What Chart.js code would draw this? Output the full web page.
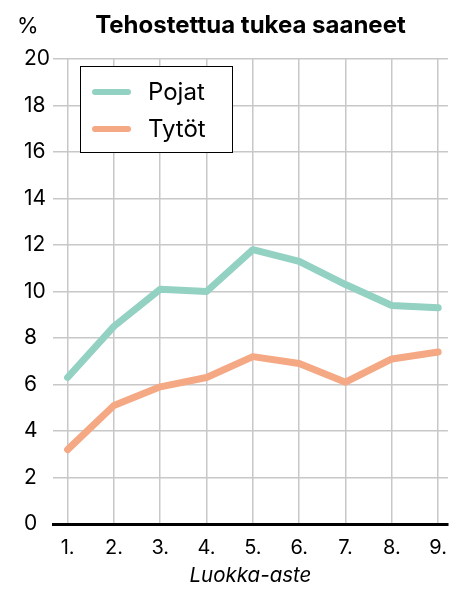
<!DOCTYPE html>
<html>
<head>
<meta charset="utf-8">
<script src="https://cdn.jsdelivr.net/npm/chart.js@4"></script>
<style>
  html, body { margin: 0; padding: 0; background: #fff; }
  #wrap { width: 459px; height: 589px; }
</style>
</head>
<body>
<div id="wrap"><canvas id="chart"></canvas></div>
<script>
// Données
const categories = ["1.", "2.", "3.", "4.", "5.", "6.", "7.", "8.", "9."];
const pojat = [6.3, 8.5, 10.1, 10.0, 11.8, 11.3, 10.3, 9.4, 9.3];
const tytot = [3.2, 5.1, 5.9, 6.3, 7.2, 6.9, 6.1, 7.1, 7.4];
const seriesNames = ["Pojat", "Tytöt"];
const titleText = "Tehostettua tukea saaneet";
const xTitle = "Luokka-aste";

const FONT = "Inter, 'Liberation Sans', sans-serif";
const colors = ["#93d1c3", "#f5a884"];

// Titre, "%" et légende dessinés sur le canvas
const decorPlugin = {
    id: "decor",
    afterDraw(chart) {
        const ctx = chart.ctx;
        const area = chart.chartArea;
        ctx.save();
        ctx.fillStyle = "#000";
        ctx.textBaseline = "alphabetic";

        // titre centré sur la zone du graphique
        ctx.font = "bold 24px " + FONT;
        ctx.textAlign = "center";
        ctx.fillText(titleText, (area.left + area.right) / 2, 33);

        ctx.font = "22px " + FONT;
        ctx.textAlign = "left";
        ctx.fillText("%", 17, 33);

        // légende
        ctx.fillStyle = "#fff";
        ctx.fillRect(80.5, 66.5, 152, 86);
        ctx.strokeStyle = "#000";
        ctx.lineWidth = 1;
        ctx.strokeRect(80.5, 66.5, 152, 86);

        const rows = [92, 129];
        seriesNames.forEach((name, i) => {
            ctx.strokeStyle = colors[i];
            ctx.lineWidth = 6;
            ctx.lineCap = "round";
            ctx.beginPath();
            ctx.moveTo(95, rows[i]);
            ctx.lineTo(128, rows[i]);
            ctx.stroke();
            ctx.fillStyle = "#000";
            ctx.font = "24px " + FONT;
            ctx.textBaseline = "middle";
            ctx.fillText(name, 148, rows[i] + 1);
        });
        ctx.restore();
    }
};

const ctx = document.getElementById("chart").getContext("2d");
new Chart(ctx, {
    type: "line",
    data: {
        datasets: [pojat, tytot].map((values, i) => ({
            label: seriesNames[i],
            data: values.map((v, j) => ({ x: j + 1, y: v })),
            borderColor: colors[i],
            backgroundColor: colors[i],
            borderWidth: 7,
            borderJoinStyle: "round",
            borderCapStyle: "round",
            pointRadius: 0,
            tension: 0,
        })),
    },
    options: {
        responsive: true,
        maintainAspectRatio: false,
        animation: false,
        layout: { padding: { top: 59, right: 0, left: 24, bottom: 0 } },
        plugins: {
            legend: { display: false },
            tooltip: { enabled: false },
        },
        scales: {
            x: {
                type: "linear",
                min: 0.685,
                max: 9.21,
                afterBuildTicks: scale => {
                    scale.ticks = categories.map((c, i) => ({ value: i + 1 }));
                },
                afterFit: scale => { scale.height = 65; },
                ticks: {
                    color: "#000",
                    font: { family: FONT, size: 20 },
                    padding: 12,
                    maxRotation: 0,
                    callback: value => categories[value - 1],
                },
                grid: { color: "#c8c8c8", lineWidth: 1.5, drawTicks: false },
                border: { color: "#000", width: 3 },
                title: {
                    display: true,
                    text: xTitle,
                    color: "#000",
                    font: { family: FONT, size: 20.5, style: "italic" },
                    padding: { top: 0, bottom: 1 },
                },
            },
            y: {
                min: 0,
                max: 20,
                afterFit: scale => { scale.width = 29; },
                ticks: {
                    stepSize: 2,
                    color: "#000",
                    font: { family: FONT, size: 21 },
                    crossAlign: "far",
                    padding: 8,
                },
                grid: { color: "#c8c8c8", lineWidth: 1.5, drawTicks: false },
                border: { display: false },
            },
        },
    },
    plugins: [decorPlugin],
});
</script>
</body>
</html>
